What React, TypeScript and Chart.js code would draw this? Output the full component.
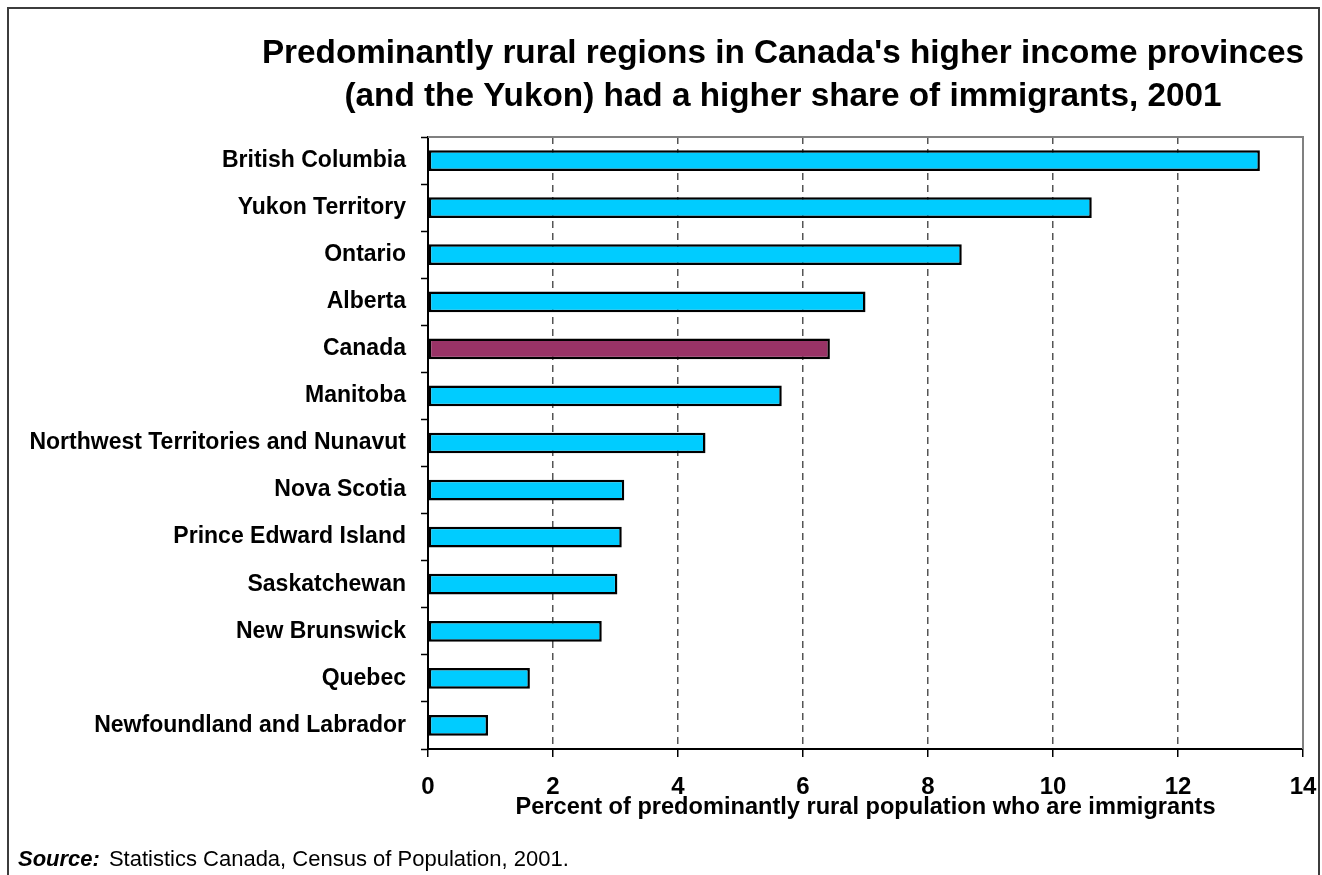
import React, { useEffect, useRef } from "react";
import { Chart, registerables } from "chart.js";

Chart.register(...registerables);

const categories = [
  "British Columbia",
  "Yukon Territory",
  "Ontario",
  "Alberta",
  "Canada",
  "Manitoba",
  "Northwest Territories and Nunavut",
  "Nova Scotia",
  "Prince Edward Island",
  "Saskatchewan",
  "New Brunswick",
  "Quebec",
  "Newfoundland and Labrador",
];
const immigrantShare = [13.31, 10.62, 8.54, 7.0, 6.43, 5.66, 4.44, 3.14, 3.1, 3.03, 2.78, 1.63, 0.96];
const highlightedCategory = "Canada";
const xTickValues = [0, 2, 4, 6, 8, 10, 12, 14];
const titleLines = [
  "Predominantly rural regions in Canada's higher income provinces",
  "(and the Yukon) had a higher share of immigrants, 2001",
];
const xAxisTitle = "Percent of predominantly rural population who are immigrants";
const sourceLabel = "Source:";
const sourceText = "Statistics Canada, Census of Population, 2001.";

const FONT = "'Liberation Sans', Arial, Helvetica, sans-serif";
const W = 1322;
const H = 875;

export default function App() {
  const canvasRef = useRef<HTMLCanvasElement | null>(null);

  useEffect(() => {
    const canvas = canvasRef.current;
    if (!canvas) return;

    const framePlugin = {
      id: "plotFrame",
      beforeDatasetsDraw(chart: any) {
        const { ctx, chartArea } = chart;
        ctx.save();
        ctx.strokeStyle = "#808080";
        ctx.lineWidth = 2;
        ctx.beginPath();
        ctx.moveTo(chartArea.left, chartArea.top);
        ctx.lineTo(chartArea.right, chartArea.top);
        ctx.lineTo(chartArea.right, chartArea.bottom);
        ctx.stroke();
        ctx.restore();
      },
    };

    const titlePlugin = {
      id: "centredTitle",
      afterDraw(chart: any) {
        const { ctx } = chart;
        ctx.save();
        ctx.fillStyle = "#000";
        ctx.textAlign = "center";
        ctx.textBaseline = "alphabetic";
        ctx.font = `bold 33.3px ${FONT}`;
        const cx = 783;
        titleLines.forEach((line, i) => {
          ctx.fillText(line, cx, 63 + i * 43);
        });
        ctx.restore();
      },
    };

    const sourcePlugin = {
      id: "sourceNote",
      afterDraw(chart: any) {
        const { ctx } = chart;
        ctx.save();
        ctx.fillStyle = "#000";
        ctx.textBaseline = "alphabetic";
        ctx.textAlign = "left";
        ctx.font = `italic bold 22px ${FONT}`;
        const x0 = 18;
        const y0 = 866;
        ctx.fillText(sourceLabel, x0, y0);
        const w = ctx.measureText(sourceLabel).width;
        ctx.font = `22px ${FONT}`;
        ctx.fillText(sourceText, x0 + w + 9, y0);
        ctx.restore();
      },
    };

    const chart = new Chart(canvas, {
      type: "bar",
      data: {
        labels: categories,
        datasets: [
          {
            data: immigrantShare,
            backgroundColor: categories.map((c) => (c === highlightedCategory ? "#993366" : "#00CCFF")),
            borderColor: "#000000",
            borderWidth: 2.5,
            borderSkipped: false,
            barPercentage: 0.44,
            categoryPercentage: 1,
          },
        ],
      },
      options: {
        indexAxis: "y",
        responsive: false,
        animation: false,
        devicePixelRatio: 1,
        layout: { padding: { left: 0, right: 19, top: 137, bottom: 0 } },
        plugins: {
          legend: { display: false },
          tooltip: { enabled: false },
          title: { display: false },
        },
        scales: {
          x: {
            type: "linear",
            position: "bottom",
            min: 0,
            max: 14,
            afterFit: (s: any) => {
              s.height = 126;
              s.paddingLeft = 0;
              s.paddingRight = 0;
            },
            afterBuildTicks: (s: any) => {
              s.ticks = xTickValues.map((v) => ({ value: v }));
            },
            ticks: {
              color: "#000",
              font: { family: FONT, size: 24, weight: "bold" },
              padding: 16,
              maxRotation: 0,
            },
            grid: {
              color: (ctx: any) =>
                ctx.tick && (ctx.tick.value === 0 || ctx.tick.value === 14) ? "rgba(0,0,0,0)" : "#555555",
              lineWidth: 1.5,
              drawTicks: true,
              tickLength: 8,
              tickColor: "#000",
              tickWidth: 1.5,
              tickBorderDash: [],
            },
            border: { display: true, color: "#000", width: 2, dash: [7, 5] },
            title: {
              display: true,
              text: xAxisTitle,
              color: "#000",
              font: { family: FONT, size: 23.6, weight: "bold" },
              padding: { top: 0, bottom: 53 },
            },
          },
          y: {
            type: "category",
            position: "left",
            afterFit: (s: any) => {
              s.width = 428;
              s.paddingTop = 0;
              s.paddingBottom = 0;
            },
            ticks: {
              color: "#000",
              font: { family: FONT, size: 23, weight: "bold" },
              padding: 15,
              autoSkip: false,
            },
            grid: {
              offset: true,
              drawOnChartArea: false,
              drawTicks: true,
              tickLength: 7,
              color: "#000",
              tickColor: "#000",
              tickWidth: 1.5,
            },
            border: { display: true, color: "#000", width: 2 },
          },
        },
      },
      plugins: [framePlugin, titlePlugin, sourcePlugin],
    } as any);

    return () => {
      chart.destroy();
    };
  }, []);

  return (
    <div style={{ position: "fixed", left: 0, top: 0, width: W, height: H, background: "#fff", overflow: "hidden" }}>
      <div
        style={{
          position: "absolute",
          left: 7,
          top: 7,
          width: 1309,
          height: 900,
          border: "2px solid #3c3c3c",
          boxSizing: "content-box",
        }}
      />
      <canvas
        ref={canvasRef}
        width={W}
        height={H}
        style={{ position: "absolute", left: 0, top: 0, width: W, height: H, display: "block" }}
      />
    </div>
  );
}
